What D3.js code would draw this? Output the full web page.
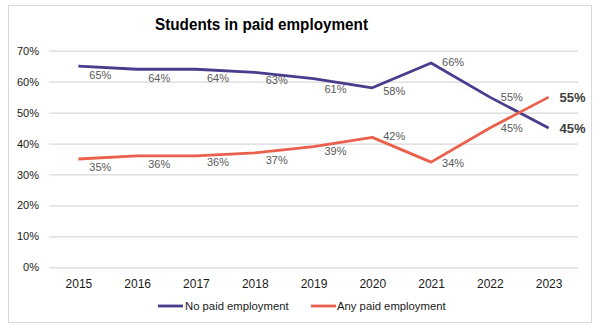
<!DOCTYPE html>
<html>
<head>
<meta charset="utf-8">
<script src="https://cdn.jsdelivr.net/npm/d3@7"></script>
<style>
  html, body { margin: 0; padding: 0; background: #fff; }
  svg { display: block; font-family: "Liberation Sans", Arial, sans-serif; }
</style>
</head>
<body>
<svg id="chart" width="600" height="332"></svg>
<script>
// ---- Data ----
const years = ["2015","2016","2017","2018","2019","2020","2021","2022","2023"];
const noPaid = [0.65, 0.64, 0.64, 0.63, 0.61, 0.58, 0.66, 0.55, 0.45];
const anyPaid = [0.35, 0.36, 0.36, 0.37, 0.39, 0.42, 0.34, 0.45, 0.55];
const yTicks = [0, 0.1, 0.2, 0.3, 0.4, 0.5, 0.6, 0.7];
const seriesNames = ["No paid employment", "Any paid employment"];
const title = "Students in paid employment";

// ---- Layout (not data) ----
const colors = ["#4b3b8c", "#ea604c"];
const labelDy = [
  [9, 9, 9, 8, 11, 3.5, -1, 0],
  [8, 8, 6, 7, 4.6, -1.5, 1, 0]
];
const plot = { left: 49, right: 578, top: 50.7, bottom: 267.3 };

const svg = d3.select("#chart");

// outer border
svg.append("rect")
  .attr("x", 8.5).attr("y", 5.5).attr("width", 583).attr("height", 317)
  .attr("fill", "#fff").attr("stroke", "#d9d9d9").attr("stroke-width", 1);

// title
svg.append("text")
  .attr("x", 261.5).attr("y", 30)
  .attr("text-anchor", "middle")
  .attr("font-size", 16).attr("font-weight", "bold").attr("fill", "#000")
  .attr("textLength", 213).attr("lengthAdjust", "spacingAndGlyphs")
  .text(title);

const x = d3.scalePoint().domain(years).range([plot.left, plot.right]).padding(0.5);
const y = d3.scaleLinear().domain([0, 0.7]).range([plot.bottom, plot.top]);

// y axis with gridlines
const yAxis = svg.append("g")
  .attr("transform", `translate(${plot.left},0)`)
  .call(d3.axisLeft(y).tickValues(yTicks).tickFormat(d3.format(".0%"))
    .tickSize(-(plot.right - plot.left)).tickPadding(10));
yAxis.select(".domain").remove();
yAxis.selectAll(".tick line").attr("stroke", "#d9d9d9").attr("stroke-width", 1.3);
yAxis.selectAll(".tick text").attr("font-size", 11).attr("fill", "#1a1a1a")
  .attr("font-family", "Liberation Sans, Arial, sans-serif");

// x axis
const xAxis = svg.append("g")
  .attr("transform", `translate(0,${plot.bottom})`)
  .call(d3.axisBottom(x).tickSize(0).tickPadding(12));
xAxis.select(".domain").remove();
xAxis.selectAll(".tick text").attr("font-size", 12).attr("fill", "#1a1a1a")
  .attr("font-family", "Liberation Sans, Arial, sans-serif");

// lines
const series = [noPaid, anyPaid];
const line = d3.line().x((d, i) => x(years[i])).y(d => y(d));
series.forEach((vals, si) => {
  svg.append("path")
    .datum(vals)
    .attr("d", line)
    .attr("fill", "none")
    .attr("stroke", colors[si])
    .attr("stroke-width", 2.8)
    .attr("stroke-linejoin", "round");
});

// data labels
series.forEach((vals, si) => {
  const g = svg.append("g");
  vals.forEach((v, i) => {
    const last = i === vals.length - 1;
    const t = g.append("text")
      .attr("dy", "0.35em")
      .text(d3.format(".0%")(v));
    if (last) {
      t.attr("x", x(years[i]) + 11).attr("y", y(v))
        .attr("text-anchor", "start")
        .attr("font-size", 13).attr("font-weight", "bold").attr("fill", "#404040");
    } else {
      t.attr("x", x(years[i]) + 22).attr("y", y(v) + labelDy[si][i])
        .attr("text-anchor", "middle")
        .attr("font-size", 11).attr("fill", "#595959");
    }
  });
});

// legend
const legendItems = [
  { lx: 158, tx: 185 },
  { lx: 311, tx: 337 }
];
seriesNames.forEach((name, i) => {
  const L = legendItems[i];
  svg.append("line")
    .attr("x1", L.lx).attr("x2", L.lx + 25)
    .attr("y1", 306).attr("y2", 306)
    .attr("stroke", colors[i]).attr("stroke-width", 2.8);
  svg.append("text")
    .attr("x", L.tx).attr("y", 306).attr("dy", "0.35em")
    .attr("font-size", 11.3).attr("fill", "#1a1a1a")
    .text(name);
});
</script>
</body>
</html>
